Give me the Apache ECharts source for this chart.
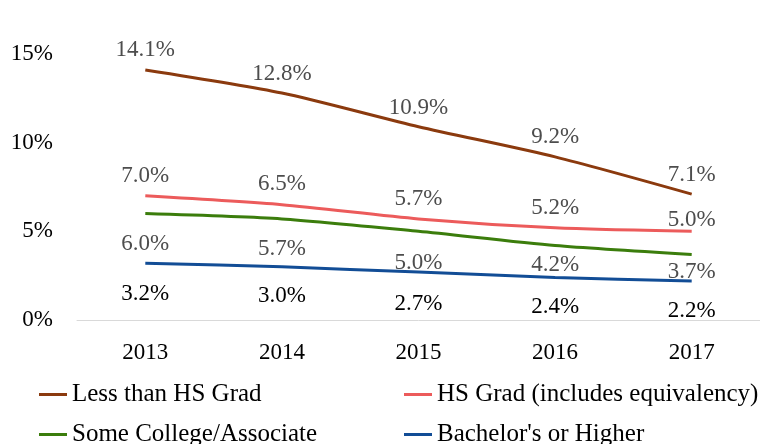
<!DOCTYPE html>
<html>
<head>
<meta charset="utf-8">
<script src="https://cdn.jsdelivr.net/npm/echarts@6/dist/echarts.min.js"></script>
<style>
  html, body { margin: 0; padding: 0; background: #fff; }
  #chart { width: 760px; height: 444px; }
</style>
</head>
<body>
<div id="chart"></div>
<script>
var years = ['2013', '2014', '2015', '2016', '2017'];
var yTicks = [0, 5, 10, 15];
var lessHS = [14.1, 12.8, 10.9, 9.2, 7.1];
var hsGrad = [7.0, 6.5, 5.7, 5.2, 5.0];
var someCollege = [6.0, 5.7, 5.0, 4.2, 3.7];
var bachelor = [3.2, 3.0, 2.7, 2.4, 2.2];

// gap between each point and its label (px), as placed in the original
var lessHSGap = [9, 8, 7, 8, 8];
var hsGradGap = [8, 9, 8, 8, 0];
var someCollegeGap = [19, 19, 20, 8, 6];
var bachelorGap = [19, 18, 20, 18, 18];

var font = 'Liberation Serif';

function withLabels(values, pos, gaps, color) {
    var data = [];
    for (let i = 0; i < values.length; i++) {
        data.push({
            value: values[i],
            label: { show: true, position: pos, distance: gaps[i], color: color }
        });
    }
    return data;
}

function makeLine(name, values, color, pos, gaps, labelColor) {
    return {
        name: name,
        type: 'line',
        data: withLabels(values, pos, gaps, labelColor),
        smooth: 0.25,
        symbol: 'circle',
        symbolSize: 0,
        showSymbol: true,
        lineStyle: { color: color, width: 3 },
        itemStyle: { color: color },
        label: {
            show: true,
            fontFamily: font,
            fontSize: 23,
            formatter: function (p) { return p.value.toFixed(1) + '%'; }
        }
    };
}

function legendItem(name, left, top) {
    return {
        left: left, top: top,
        itemWidth: 28, itemHeight: 3, icon: 'rect',
        textStyle: { fontFamily: font, fontSize: 25, color: '#000' },
        data: [name]
    };
}

var myChart = echarts.init(document.getElementById('chart'));
var option = {
    animation: false,
    grid: { left: 77, right: -5, top: 54, bottom: 124 },
    xAxis: {
        type: 'category',
        data: years,
        boundaryGap: true,
        axisLine: { lineStyle: { color: '#D9D9D9', width: 1 } },
        axisTick: { show: false },
        axisLabel: { color: '#000', fontFamily: font, fontSize: 23, margin: 21 }
    },
    yAxis: {
        type: 'value',
        min: yTicks[0],
        max: yTicks[yTicks.length - 1],
        interval: 5,
        splitLine: { show: false },
        axisLine: { show: false },
        axisTick: { show: false },
        axisLabel: { color: '#000', fontFamily: font, fontSize: 23, margin: 24, formatter: '{value}%' }
    },
    legend: [
        legendItem('Less than HS Grad', 34, 377),
        legendItem('HS Grad (includes equivalency)', 399, 377),
        legendItem('Some College/Associate', 34, 417),
        legendItem("Bachelor's or Higher", 399, 417)
    ],
    series: [
        makeLine('Less than HS Grad', lessHS, '#8B3A0E', 'top', lessHSGap, '#4d4d4d'),
        makeLine('HS Grad (includes equivalency)', hsGrad, '#EC5B5B', 'top', hsGradGap, '#4d4d4d'),
        makeLine('Some College/Associate', someCollege, '#3B7D0C', 'bottom', someCollegeGap, '#4d4d4d'),
        makeLine("Bachelor's or Higher", bachelor, '#124D96', 'bottom', bachelorGap, '#000')
    ]
};
myChart.setOption(option);
</script>
</body>
</html>
